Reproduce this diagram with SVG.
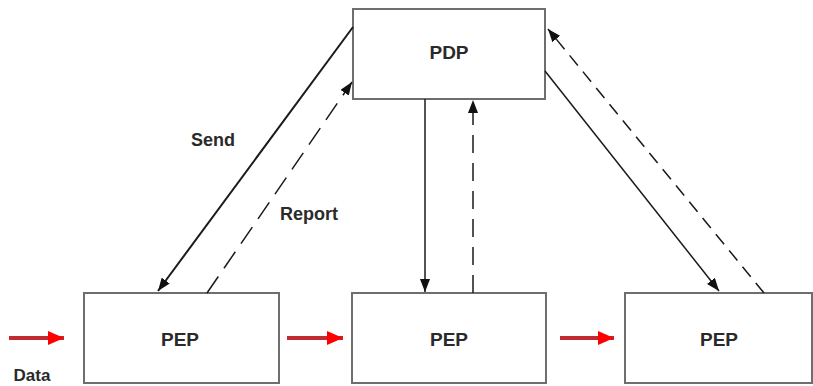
<svg xmlns="http://www.w3.org/2000/svg" width="813" height="386" viewBox="0 0 813 386">
<style>
.box{fill:#fff;stroke:#6e6e6e;stroke-width:2}
.lbl{font-family:"Liberation Sans",Arial,sans-serif;font-weight:bold;fill:#2a2a2a}
.c{fill:none;stroke:#1a1a1a;stroke-width:1.5}
.d{stroke-dasharray:16 9}
.red{stroke:#c02a30;stroke-width:4;fill:none}
</style>
<defs>
<marker id="ah" markerUnits="userSpaceOnUse" markerWidth="14" markerHeight="10" refX="13" refY="5" orient="auto">
<path d="M0,0 L13,5 L0,10 Z" fill="#111"/>
</marker>
<marker id="rh" markerUnits="userSpaceOnUse" markerWidth="17" markerHeight="14" refX="16" refY="7" orient="auto">
<path d="M0,0 L16,7 L0,14 Z" fill="#f00"/>
</marker>
</defs>
<rect width="813" height="386" fill="#fff"/>
<g id="pdp">
<rect class="box" x="353" y="9" width="192" height="90"/>
<text class="lbl" x="449" y="59" font-size="19" text-anchor="middle">PDP</text>
</g>
<g id="pep1">
<rect class="box" x="84" y="293" width="195" height="90"/>
<text class="lbl" x="180" y="346" font-size="19" text-anchor="middle">PEP</text>
</g>
<g id="pep2">
<rect class="box" x="352" y="293" width="194" height="90"/>
<text class="lbl" x="449" y="346" font-size="19" text-anchor="middle">PEP</text>
</g>
<g id="pep3">
<rect class="box" x="625" y="293" width="187" height="90"/>
<text class="lbl" x="719" y="346" font-size="19" text-anchor="middle">PEP</text>
</g>
<g id="connectors">
<line class="c" x1="353" y1="27" x2="158" y2="291" marker-end="url(#ah)" style="stroke-width:2"/>
<line class="c d" x1="207" y1="293" x2="352" y2="82" marker-end="url(#ah)" style="stroke-dasharray:20 10"/>
<line class="c" x1="425" y1="99" x2="425" y2="292" marker-end="url(#ah)"/>
<line class="c d" x1="473" y1="293" x2="473" y2="100" marker-end="url(#ah)" style="stroke-dasharray:18 10"/>
<line class="c" x1="545" y1="71" x2="719" y2="291" marker-end="url(#ah)"/>
<line class="c d" x1="764" y1="293" x2="548" y2="29" marker-end="url(#ah)" style="stroke-dasharray:13 8"/>
<line class="red" x1="9" y1="338" x2="64" y2="338" marker-end="url(#rh)"/>
<line class="red" x1="287" y1="338" x2="343" y2="338" marker-end="url(#rh)"/>
<line class="red" x1="560" y1="338" x2="614" y2="338" marker-end="url(#rh)"/>
<text class="lbl" x="213" y="146" font-size="18" text-anchor="middle">Send</text>
<text class="lbl" x="309" y="220" font-size="18" text-anchor="middle">Report</text>
<text class="lbl" x="32" y="381" font-size="17" text-anchor="middle">Data</text>
</g>
</svg>
